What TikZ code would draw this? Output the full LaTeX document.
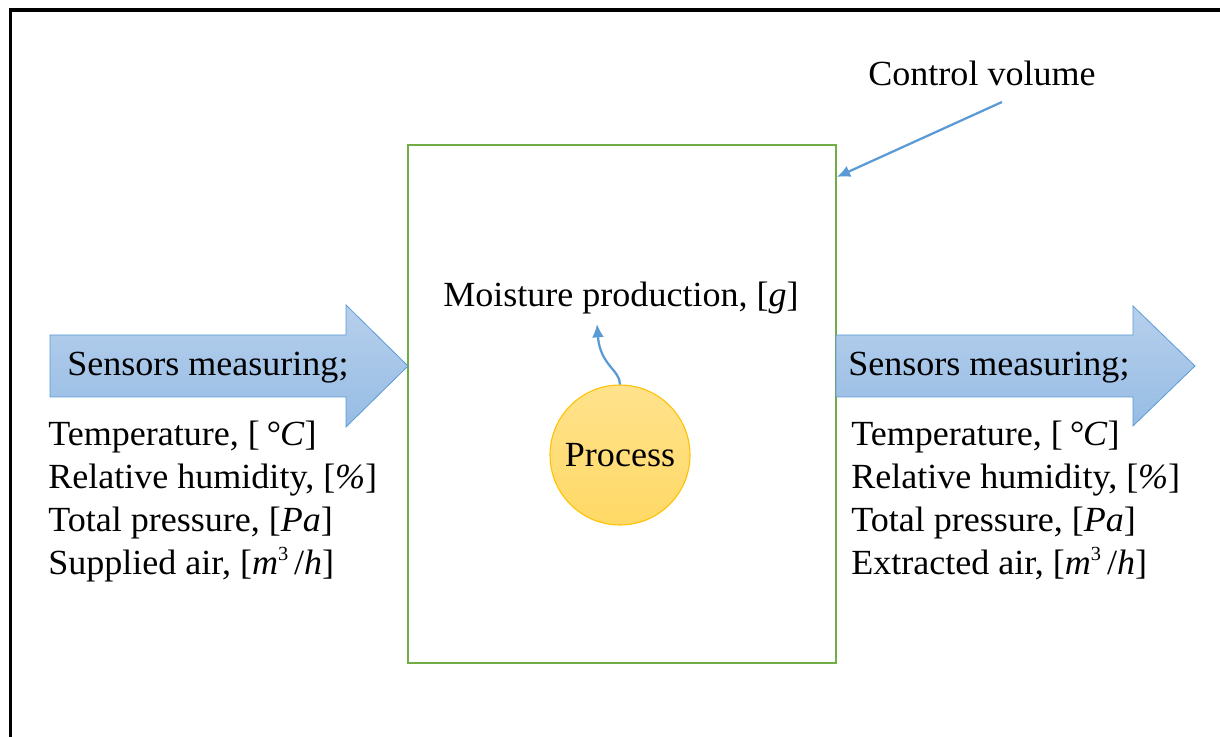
\documentclass[tikz,border=0pt]{standalone}
\usepackage{fontspec}
\setmainfont{Liberation Serif}[FakeStretch=1.02]
\usetikzlibrary{arrows.meta}
\definecolor{cvgreen}{RGB}{112,173,71}
\definecolor{arrblue}{RGB}{91,155,213}
\definecolor{arrtop}{RGB}{183,208,236}
\definecolor{arrbot}{RGB}{150,188,228}
\definecolor{procfill}{RGB}{255,217,102}
\definecolor{proctop}{RGB}{255,226,140}
\definecolor{procline}{RGB}{255,192,0}
\newcommand{\cubesup}{\raisebox{0.42em}{\fontsize{15}{15}\selectfont 3}}
\tikzset{
  txt/.style={font=\fontsize{26.5}{32.3}\selectfont, inner sep=0pt},
  list/.style={txt, align=left, anchor=north west},
  bigarrow/.style={draw=arrblue, line width=0.6pt, top color=arrtop, bottom color=arrbot},
  blueline/.style={draw=arrblue, line width=1.7pt, -{Latex[length=10pt,width=9pt]}},
}
\begin{document}
\begin{tikzpicture}[x=0.75pt,y=-0.75pt]
\useasboundingbox (0,0) rectangle (1220,737);
% outer frame (only top and left visible)
\draw[line width=2.8pt] (10.5,745) -- (10.5,10) -- (1230,10);
% control volume
\node[draw=cvgreen, line width=1.2pt, minimum width=428*0.75pt, minimum height=518*0.75pt, inner sep=0pt] (cv) at (622,404) {};
% left big arrow
\path[bigarrow] (50,335) -- (346,335) -- (346,305) -- (408,366) -- (346,427) -- (346,397) -- (50,397) -- cycle;
\node[txt, anchor=base west] (sl) at (67,376) {Sensors measuring;};
% right big arrow
\path[bigarrow] (836,335) -- (1133,335) -- (1133,306) -- (1195,366) -- (1133,426) -- (1133,397) -- (836,397) -- cycle;
\node[txt, anchor=base west] (sr) at (848,376) {Sensors measuring;};
% lists
\node[list] (ll) at (48,421) {Temperature, [\,\textit{°C}]\\Relative humidity, [\textit{\%}]\\Total pressure, [\textit{Pa}]\\Supplied air, [\textit{m}\cubesup\,/\textit{h}]};
\node[list] (rl) at (851,421) {Temperature, [\,\textit{°C}]\\Relative humidity, [\textit{\%}]\\Total pressure, [\textit{Pa}]\\Extracted air, [\textit{m}\cubesup\,/\textit{h}]};
% moisture production
\node[txt] (mp) at (621,298) {Moisture production, [\textit{g}]};
% process
\node[circle, draw=procline, line width=0.8pt, top color=proctop, bottom color=procfill, minimum size=140*0.75pt, inner sep=0pt, txt] (proc) at (620,455) {Process};
\coordinate (mptip) at (597,324);
\draw[blueline] (proc.north) .. controls (620,370) and (600,365) .. (mptip);
% control volume label
\node[txt] (cvl) at (982,73) {Control volume};
\coordinate (cvs) at (1002,102);
\draw[blueline] (cvs) -- (cv.north east |- 0,177);
\end{tikzpicture}
\end{document}
